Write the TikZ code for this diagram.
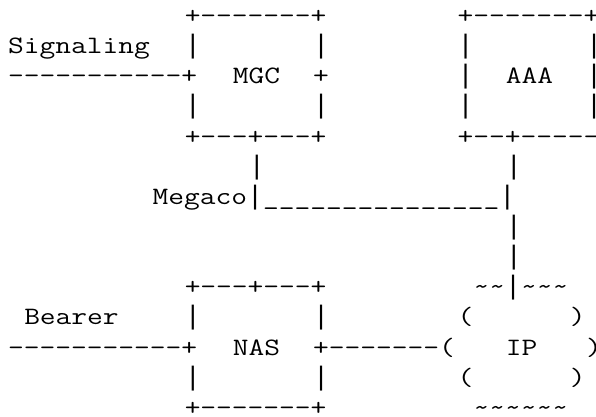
\documentclass[tikz,border=0pt]{standalone}
\usepackage{fontspec}
\setmonofont[FakeStretch=1.223]{Latin Modern Mono}
\newfontfamily\barfont{Liberation Mono}
\newcommand\tld{\textasciitilde}
\newcommand\vb{{\barfont\fontsize{26.75}{30}\selectfont|}}
\tikzset{asc/.style={anchor=base west, inner sep=0pt, outer sep=0pt, text=black,
  font=\ttfamily\fontsize{25}{30}\selectfont}}
\begin{document}
\begin{tikzpicture}[x=16.05pt,y=-30.13pt]
\useasboundingbox[fill=white] (0pt,0pt) rectangle (596pt,-416pt);
\begin{scope}[shift={(8.2pt,-23.6pt)}]
% row 0
\node[asc] (mgcTop) at (11,0) {+-------+};
\node[asc] (aaaTop) at (28,0) {+-------+};
% row 1
\node[asc] (sigLabel) at (0,1) {Signaling};
\node[asc] (mgcL1) at (11,1) {\vb};
\node[asc] (mgcR1) at (19,1) {\vb};
\node[asc] (aaaL1) at (28,1) {\vb};
\node[asc] (aaaR1) at (36,1) {\vb};
% row 2
\node[asc] (sigLine) at (0,2) {-----------+};
\node[asc] (mgc) at (14,2) {MGC};
\node[asc] (mgcR2) at (19,2) {+};
\node[asc] (aaaL2) at (28,2) {\vb};
\node[asc] (aaa) at (31,2) {AAA};
\node[asc] (aaaR2) at (36,2) {\vb};
% row 3
\node[asc] (mgcL3) at (11,3) {\vb};
\node[asc] (mgcR3) at (19,3) {\vb};
\node[asc] (aaaL3) at (28,3) {\vb};
\node[asc] (aaaR3) at (36,3) {\vb};
% row 4
\node[asc] (mgcBot) at (11,4) {+---+---+};
\node[asc] (aaaBot) at (28,4) {+--+-----+};
% row 5
\node[asc] (mgcV5) at (15,5) {\vb};
\node[asc] (aaaV5) at (31,5) {\vb};
% row 6
\node[asc] (megaco) at (9,6) {Megaco\vb\_\_\_\_\_\_\_\_\_\_\_\_\_\_\_\vb};
% rows 7-8
\node[asc] (aaaV7) at (31,7) {\vb};
\node[asc] (aaaV8) at (31,8) {\vb};
% row 9
\node[asc] (nasTop) at (11,9) {+---+---+};
\node[asc] (ipTop) at (29,9) {\tld\tld\vb\tld\tld\tld};
% row 10
\node[asc] (bearer) at (1,10) {Bearer};
\node[asc] (nasL10) at (11,10) {\vb};
\node[asc] (nasR10) at (19,10) {\vb};
\node[asc] (ipL10) at (28,10) {(};
\node[asc] (ipR10) at (35,10) {)};
% row 11
\node[asc] (bearerLine) at (0,11) {-----------+};
\node[asc] (nas) at (14,11) {NAS};
\node[asc] (nasLink) at (19,11) {+-------(};
\node[asc] (ip) at (31,11) {IP};
\node[asc] (ipR11) at (36,11) {)};
% row 12
\node[asc] (nasL12) at (11,12) {\vb};
\node[asc] (nasR12) at (19,12) {\vb};
\node[asc] (ipL12) at (28,12) {(};
\node[asc] (ipR12) at (35,12) {)};
% row 13
\node[asc] (nasBot) at (11,13) {+-------+};
\node[asc] (ipBot) at (29,13) {\tld\tld\tld\tld\tld\tld};
\end{scope}
\end{tikzpicture}
\end{document}
